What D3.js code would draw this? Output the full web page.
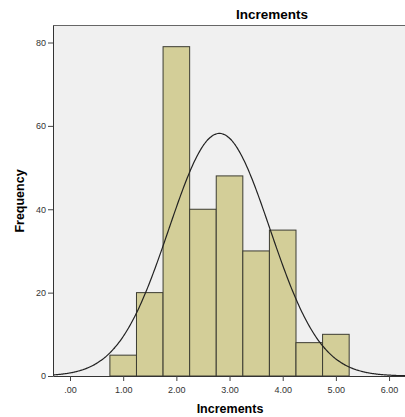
<!DOCTYPE html>
<html>
<head>
<meta charset="utf-8">
<script src="https://cdn.jsdelivr.net/npm/d3@7"></script>
<style>
  body { margin: 0; background: #fff; }
  text { font-family: "Liberation Sans", Arial, sans-serif; }
</style>
</head>
<body>
<svg id="svg" width="405" height="417"></svg>
<script>
// data
const binStarts = [0.75, 1.25, 1.75, 2.25, 2.75, 3.25, 3.75, 4.25, 4.75];
const counts = [5, 20, 79, 40, 48, 30, 35, 8, 10];
const binWidth = 0.5;
const xTicks = [0, 1, 2, 3, 4, 5, 6];
const yTicks = [0, 20, 40, 60, 80];
// fitted normal curve
const mean = 2.81;
const sd = 0.95;
const curvePeak = 58.2;

const svg = d3.select("#svg");
const plot = { left: 53, top: 25, right: 405, bottom: 376 };

const x = d3.scaleLinear().domain([-0.32, 6.3]).range([plot.left, plot.right]);
const y = d3.scaleLinear().domain([0, 84.2]).range([plot.bottom, plot.top]);

// plot background
svg.append("rect")
  .attr("x", plot.left).attr("y", plot.top)
  .attr("width", plot.right - plot.left).attr("height", plot.bottom - plot.top)
  .attr("fill", "#f0f0f0");

// frame (top + left)
svg.append("path")
  .attr("d", `M${plot.right},${plot.top + 0.5}H${plot.left + 0.5}V${plot.bottom}`)
  .attr("fill", "none").attr("stroke", "#666").attr("stroke-width", 1);

// bars
svg.append("g").selectAll("rect")
  .data(binStarts.map((s, i) => ({ s, c: counts[i] })))
  .join("rect")
  .attr("x", d => x(d.s))
  .attr("y", d => y(d.c))
  .attr("width", x(binWidth) - x(0))
  .attr("height", d => y(0) - y(d.c))
  .attr("fill", "#d3ce98")
  .attr("stroke", "#3c3c32")
  .attr("stroke-width", 1);

// normal curve
const pts = d3.range(-0.32, 6.31, 0.02).map(v => [v, curvePeak * Math.exp(-((v - mean) ** 2) / (2 * sd * sd))]);
const line = d3.line().x(d => x(d[0])).y(d => y(d[1])).curve(d3.curveBasis);
svg.append("path")
  .attr("d", line(pts))
  .attr("fill", "none").attr("stroke", "#222").attr("stroke-width", 1.2);

// axes
const xAxis = svg.append("g")
  .attr("transform", `translate(0,${plot.bottom})`)
  .call(d3.axisBottom(x).tickValues(xTicks).tickFormat(d => d === 0 ? ".00" : d3.format(".2f")(d)).tickSize(5).tickSizeOuter(0));
const yAxis = svg.append("g")
  .attr("transform", `translate(${plot.left},0)`)
  .call(d3.axisLeft(y).tickValues(yTicks).tickSize(5).tickSizeOuter(0));

[xAxis, yAxis].forEach(g => {
  g.select(".domain").attr("stroke", "#333");
  g.selectAll(".tick line").attr("stroke", "#444");
  g.selectAll(".tick text").attr("fill", "#333").style("font-size", "9px")
    .style("font-family", "'Liberation Sans', Arial, sans-serif");
});
xAxis.selectAll(".tick text").attr("dy", "0.95em");
yAxis.selectAll(".tick text").attr("x", -7);

// titles
svg.append("text")
  .attr("x", 272).attr("y", 19)
  .attr("text-anchor", "middle")
  .style("font-size", "13.5px").style("font-weight", "bold")
  .text("Increments");

svg.append("text")
  .attr("x", 230).attr("y", 413)
  .attr("text-anchor", "middle")
  .style("font-size", "12.5px").style("font-weight", "bold")
  .text("Increments");

svg.append("text")
  .attr("transform", "translate(24,201) rotate(-90)")
  .attr("text-anchor", "middle")
  .style("font-size", "12.5px").style("font-weight", "bold")
  .text("Frequency");
</script>
</body>
</html>
